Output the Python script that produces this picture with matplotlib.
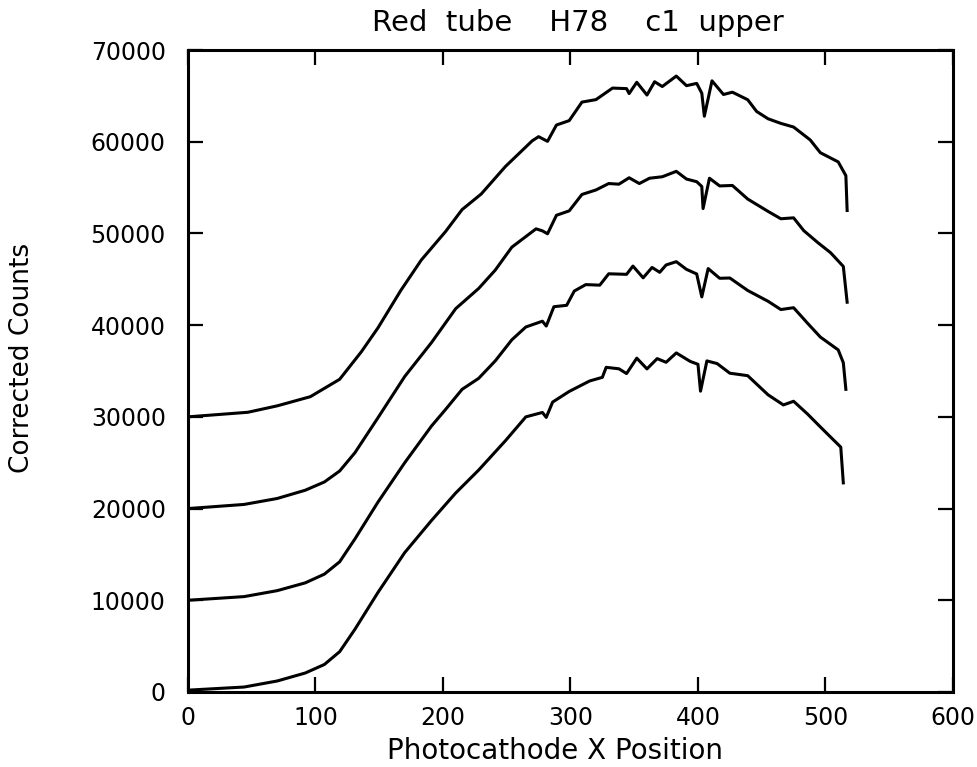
import matplotlib
matplotlib.use("Agg")
import matplotlib.pyplot as plt

# Four spectra, each offset by 10000 counts
x_c1 = [0, 47, 70, 96, 119, 136, 149, 167, 183, 202, 215, 230, 249, 270, 275, 282,
        289, 299, 309, 320, 333, 344, 346, 352, 360, 366, 372, 383, 391, 399, 403,
        405, 411, 420, 427, 439, 446, 455, 465, 475, 488, 496, 510, 516, 517]
y_c1 = [30000, 30500, 31200, 32200, 34100, 37100, 39700, 43800, 47100, 50200, 52600,
        54300, 57300, 60100, 60550, 60040, 61820, 62300, 64320, 64590, 65850, 65790,
        65250, 66480, 65090, 66540, 66020, 67160, 66110, 66360, 65290, 62780, 66640,
        65150, 65400, 64580, 63300, 62500, 62000, 61600, 60200, 58800, 57800, 56300,
        52500]

x_c2 = [0, 44, 70, 92, 107, 119, 131, 149, 170, 191, 210, 228, 241, 254, 273, 278,
        282, 289, 299, 309, 320, 330, 338, 346, 354, 362, 372, 383, 391, 399, 403,
        404, 409, 417, 427, 439, 455, 465, 475, 483, 494, 504, 514, 517]
y_c2 = [20000, 20450, 21100, 22000, 22900, 24100, 26100, 29900, 34400, 38100, 41800,
        44000, 46000, 48500, 50500, 50280, 49960, 51980, 52460, 54250, 54740, 55440,
        55370, 56070, 55440, 56020, 56180, 56770, 55930, 55640, 55120, 52710, 56020,
        55180, 55230, 53750, 52400, 51600, 51700, 50300, 49000, 47900, 46400, 42500]

x_c3 = [0, 44, 70, 92, 107, 119, 131, 149, 170, 191, 202, 215, 228, 241, 254, 265,
        278, 281, 287, 297, 303, 312, 323, 330, 344, 349, 357, 364, 370, 375, 383,
        391, 399, 403, 408, 417, 425, 439, 455, 465, 475, 486, 496, 510, 514, 516]
y_c3 = [10000, 10400, 11050, 11900, 12850, 14200, 16700, 20700, 25000, 29000, 30800,
        33000, 34200, 36100, 38400, 39800, 40430, 39900, 42010, 42160, 43720, 44420,
        44360, 45600, 45540, 46440, 45160, 46290, 45760, 46560, 46920, 46080, 45580,
        43080, 46170, 45110, 45140, 43780, 42600, 41700, 41900, 40200, 38700, 37300,
        35900, 33000]

x_c4 = [0, 44, 70, 92, 107, 119, 131, 149, 170, 191, 210, 228, 249, 265, 278, 281,
        286, 299, 315, 325, 328, 338, 344, 352, 360, 368, 375, 383, 394, 400, 402,
        407, 415, 425, 439, 455, 467, 475, 486, 496, 512, 514]
y_c4 = [200, 540, 1200, 2070, 3000, 4400, 6850, 10850, 15200, 18700, 21700, 24200,
        27400, 30000, 30480, 29940, 31610, 32770, 33910, 34310, 35400, 35240, 34720,
        36400, 35230, 36350, 35950, 36970, 36040, 35730, 32800, 36100, 35810, 34760,
        34490, 32400, 31300, 31700, 30300, 28900, 26700, 22800]

x_ticks = [0, 100, 200, 300, 400, 500, 600]
y_ticks = [0, 10000, 20000, 30000, 40000, 50000, 60000, 70000]


def main() -> None:
    fig = plt.figure(figsize=(9.77, 7.67), dpi=100)
    ax = fig.add_axes([0.1924, 0.0978, 0.783, 0.8370])

    for xs, ys in [(x_c1, y_c1), (x_c2, y_c2), (x_c3, y_c3), (x_c4, y_c4)]:
        ax.plot(xs, ys, color="black", linewidth=2.2)

    ax.set_xlim(0, 600)
    ax.set_ylim(0, 70000)
    ax.set_xticks(x_ticks)
    ax.set_yticks(y_ticks)
    ax.set_xticklabels([str(v) for v in x_ticks])
    ax.set_yticklabels([str(v) for v in y_ticks])

    ax.tick_params(axis="both", direction="in", length=11, width=1.6,
                   top=True, right=True, labelsize=17, colors="black")
    ax.tick_params(axis="x", pad=10)
    ax.tick_params(axis="y", pad=16)
    for spine in ax.spines.values():
        spine.set_linewidth(2.2)

    ax.set_title("Red  tube    H78    c1  upper", fontsize=21, pad=14, x=0.51)
    ax.set_xlabel("Photocathode X Position", fontsize=20, labelpad=5, x=0.48)
    ax.set_ylabel("Corrected Counts", fontsize=19)
    ax.yaxis.set_label_coords(-0.2, 0.52)

    fig.savefig("out.png", dpi=100, facecolor="white")
    plt.close(fig)


if __name__ == "__main__":
    main()
